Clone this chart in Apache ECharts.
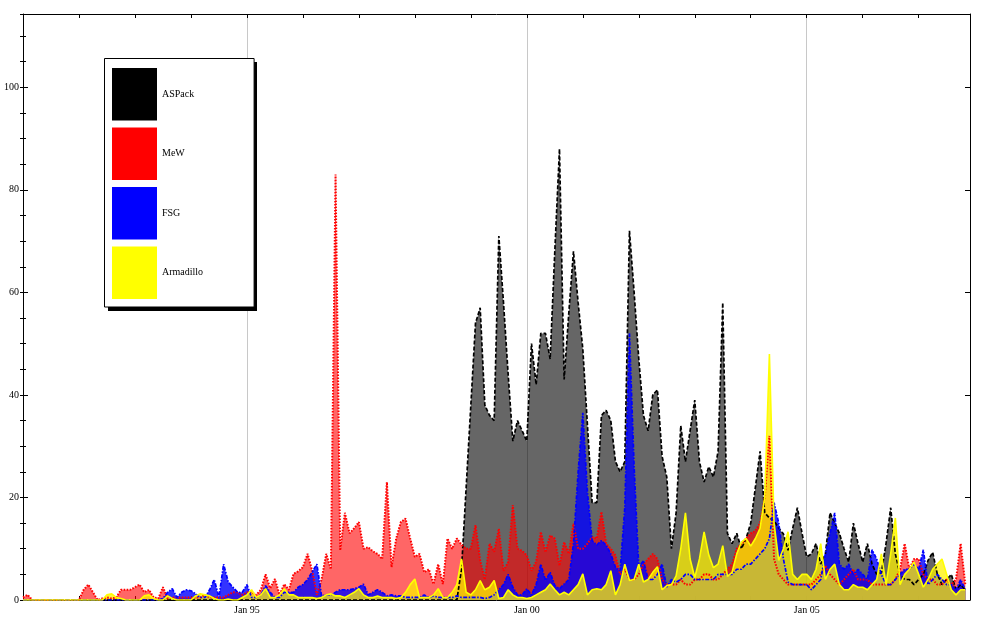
<!DOCTYPE html>
<html>
<head>
<meta charset="utf-8">
<script src="https://cdn.jsdelivr.net/npm/echarts@6/dist/echarts.min.js"></script>
<style>
html,body{margin:0;padding:0;background:#fff;}
#chart{width:1000px;height:620px;}
</style>
</head>
<body>
<div id="chart"></div>
<script>
// Monthly values, index 0 = Jan 1991
const seriesNames = ['ASPack', 'MeW', 'FSG', 'Armadillo'];

const aspack = [
  0,0,0,0,0,0,0,0,0,0,0,0,
  0,0,0,0,0,0,0,0,0,0,0,0,
  0,0,0,0,0,0,0,0,0,0,0,0,
  0,0,0,0,0,0,0,0,0,0,0,0,
  0,0,0,0,0,0,0,0,0,0,0,0,
  0,0,0,0,0,0,0,0,0,0,0,0,
  0,0,0,0,0,0,0,0,0,0,0,0,
  0,0,0,0,0,0,0,0,0,0,6,22,
  38,54,57,38,36,35,71,58,44,31,35,33,
  31,50,42,52,52,47,68,88,43,56,68,58,
  49,34,19,19,36,37,35,27,25,27,72,60,
  47,36,33,40,41,28,24,10,17,34,27,33,
  39,27,23,26,24,29,58,13,11,13,10,12,
  15,22,29,17,16,15.5,14,12.9,9.7,14,18,13,
  8.4,9,11,7,9,17,15,13,10,7.4,15,11,
  7.4,11,7,5,5.3,11,18,9,5,4,4,3,
  4,5,7.7,9.3,5,3,4,5,2,3,2
];

const mew = [
  0.5,1,0,0,0,0,0,0,0,0,0,0,
  0,2,3,1.5,0,0.3,0.5,0.3,0.5,2,2,2,
  2.5,3,1.5,2,0.5,0.3,2.5,0.3,0.5,0.5,0.5,0.5,
  0.5,0.5,0.5,1,0.5,0.5,0.5,0.5,1,1.5,1.5,1,
  1.5,1.5,1,2,5,2.3,4.1,1,3.1,2,5.1,5.6,
  6.4,9,5.7,1,4,9,6,83,9.7,17,13,14,
  15.2,10,10.3,9.5,9,8,23,6.4,12,15.2,15.9,12,
  8.4,9,5.4,6,3.1,7,3.1,12,10,12,10.8,10,
  10,14.6,7.7,4,11,9.4,13.9,5.7,7.4,18.5,10,9.6,
  8.7,5.7,7.5,13.3,9.3,12.6,12,6.7,11.3,9,14.9,10,
  10,11,12.3,12,17.2,11,10,8.7,5,6,4,4,
  5,7,8,9,8,4,3,3,3,4,3,3,
  4,4,5,5,4,4,5,6,7,10,11,12,
  13,13.5,15,20,32,8,5,4,3,3,3,3,
  3,3,4,5,6.7,5,4,3,4,5,6,4,
  4,4,3,3,3,3,3,4,6,11,6,8,
  8,5,4,4,3,3,4,3,4,11,3
];

const fsg = [
  0,0,0,0,0,0,0,0,0,0,0,0,
  0,0,0,0,0,0,0,0,0,0,0,0,
  0,0,0,0,0,0,0.3,1.5,2.2,0.5,1.5,2,
  1.8,1.2,0.5,0.5,2,4,0.5,7,3.5,2.5,1.5,1.5,
  3,0.5,0.5,1,2.8,1.5,0.5,0.5,1.5,1.5,1.5,2.5,
  3,4,5.5,7,0.8,1,1,1.5,2,2,2,2.2,
  2.5,3.1,1,1.5,2,1.5,0.8,1,0.8,0.8,0.5,0.5,
  0.5,0.5,1,0.5,0.8,0.5,0.5,0.5,0.5,0.8,0.5,0.5,
  0.5,0.5,0.5,0.3,0.5,1,2,3,5,2.5,1,1,
  2.2,1,3,7,3.8,5.4,2.8,2.2,3.1,4,11,25,
  36.5,21,11.6,10.7,11.6,10.7,9,6.4,5.7,18,52,26,
  6.4,7.7,4,4,5,7,2.5,4,3.5,4,5,5,
  4,4,4,4,4,5,5,5,5,6,6,7,
  7,8,9,10,12,19,15,8,3.5,3,3,3,
  3,2,3,4,9,13,17,7,6,7,5,6,
  5,4,9.8,8,5,3,3,4,5,6,6,7,
  6,9.8,3,4,5,4,3,3,2,4,2
];

const armadillo = [
  0,0,0,0,0,0,0,0,0,0,0,0,
  0,0,0,0,0,0,1,1.2,0.5,0.3,0,0,
  0,0,0.8,1,0.3,0,0,0.8,0.3,0,0,0,
  0,0.8,1.2,1,0.8,0.3,0,0,0.2,0,0,0.5,
  1,2,0.5,1,2.2,0.5,0.5,1,2.2,1,1,0.5,
  0.5,0.5,0.5,0.3,0.5,1,1.2,0.8,0.8,0.5,1,1.5,
  2.2,1,0.5,0.5,0.8,0.5,0.5,0.5,0.3,0.5,1.5,3,
  4.1,0.5,0.5,0.5,1,2.2,0.5,0.5,1.5,3,8,1.5,
  1,2,3.8,2,2.5,3.8,0.3,0.5,2,1,0.5,0.5,
  0.3,0.5,1,1.5,2,3.1,2,1,1.5,1,2,3,
  5.1,1,2,2.2,2,3,5.7,1,3,7,3.8,4,
  7,3.5,4,5.4,6.5,2,2.8,3,4.7,10,17,8,
  4.4,8,13.3,8.8,6.3,7,10.6,4.6,5.4,9,11.3,12,
  10.5,12,14,20,48,15,7.7,10,13.3,5,4,5,
  5,4,6,11,4,6,7,3,2,2,3,2.5,
  2.5,2,3,4,9,3,9,16,3,5,6,7.4,
  5,2.5,4,6,7,8,5,2,1,2,2
];

// Axis ticks
const xTickMonths = [48, 108, 168];
const xTickLabels = ['Jan 95', 'Jan 00', 'Jan 05'];
const yTickValues = [0, 20, 40, 60, 80, 100];

const toXY = arr => arr.map((v, i) => [i, v]);

const serif = 'Liberation Serif';
const tr = 'rgba(0,0,0,0)';

const chart = echarts.init(document.getElementById('chart'), null, {renderer: 'canvas'});

const xBase = {
  type: 'value', min: 0, max: 203, interval: 12,
  axisLine: {show: true, onZero: false, lineStyle: {color: '#000', width: 1}},
  axisTick: {show: true, inside: true, length: 4, lineStyle: {color: '#000', width: 1}},
  splitLine: {show: false}
};
const yBase = {
  type: 'value', min: 0, max: 114.3,
  axisLine: {show: true, onZero: false, lineStyle: {color: '#000', width: 1}},
  splitLine: {show: false}
};

// legend box geometry
const LG = {left: 104.5, top: 58.5, width: 149, height: 249};

const option = {
  backgroundColor: '#fff',
  animation: false,
  grid: {left: 23, right: 30, top: 14, bottom: 20},
  graphic: [{
    type: 'rect', z: 5, silent: true,
    shape: {x: LG.left + 3.5, y: LG.top + 3.5, width: LG.width, height: LG.height},
    style: {fill: '#000'}
  }],
  xAxis: [
    Object.assign({}, xBase, {
      position: 'bottom',
      axisLabel: {
        show: true, margin: 5, fontFamily: serif, fontSize: 10, color: '#000',
        showMinLabel: true, showMaxLabel: true,
        formatter: v => { const k = xTickMonths.indexOf(v); return k >= 0 ? xTickLabels[k] : ''; }
      },
      splitLine: {show: true, lineStyle: {color: [tr, tr, tr, tr, '#c8c8c8'], width: 1}}
    }),
    Object.assign({}, xBase, {position: 'top', axisLabel: {show: false}})
  ],
  yAxis: [
    Object.assign({}, yBase, {
      position: 'left', interval: 20,
      axisTick: {show: true, inside: true, length: 5, lineStyle: {color: '#000', width: 1}},
      axisLabel: {
        show: true, margin: 4, fontFamily: serif, fontSize: 10, color: '#000',
        formatter: v => yTickValues.indexOf(v) >= 0 ? String(v) : ''
      }
    }),
    Object.assign({}, yBase, {
      position: 'left', interval: 5, axisLine: {show: false},
      axisTick: {show: true, inside: true, length: 3, lineStyle: {color: '#000', width: 1}},
      axisLabel: {show: false}
    }),
    Object.assign({}, yBase, {
      position: 'right', interval: 20,
      axisTick: {show: true, inside: true, length: 5, lineStyle: {color: '#000', width: 1}},
      axisLabel: {show: false}
    }),
    Object.assign({}, yBase, {
      position: 'right', interval: 5, axisLine: {show: false},
      axisTick: {show: true, inside: true, length: 3, lineStyle: {color: '#000', width: 1}},
      axisLabel: {show: false}
    })
  ],
  legend: {
    orient: 'vertical', left: LG.left, top: LG.top, z: 10,
    itemWidth: 45, itemHeight: 52.5, itemGap: 7,
    padding: [9.5, 51, 8, 7.5],
    backgroundColor: '#fff', borderColor: '#000', borderWidth: 1,
    icon: 'rect', symbolKeepAspect: false, selectedMode: false,
    textStyle: {fontFamily: serif, fontSize: 10, color: '#000'},
    data: [
      {name: seriesNames[0], itemStyle: {color: '#000000', borderWidth: 0, opacity: 1}},
      {name: seriesNames[1], itemStyle: {color: '#ff0000', borderWidth: 0, opacity: 1}},
      {name: seriesNames[2], itemStyle: {color: '#0000ff', borderWidth: 0, opacity: 1}},
      {name: seriesNames[3], itemStyle: {color: '#ffff00', borderWidth: 0, opacity: 1}}
    ]
  },
  series: [
    {
      name: seriesNames[0], type: 'line', data: toXY(aspack),
      symbol: 'none', showSymbol: false, silent: true, color: '#000',
      lineStyle: {color: '#000', width: 1.7, type: [4, 2]},
      areaStyle: {color: '#000000', opacity: 0.6, origin: 'start'}
    },
    {
      name: seriesNames[1], type: 'line', data: toXY(mew),
      symbol: 'none', showSymbol: false, silent: true, color: '#ff0000',
      lineStyle: {color: '#ff0000', width: 2, type: [1.6, 1.4]},
      areaStyle: {color: '#ff0000', opacity: 0.6, origin: 'start'}
    },
    {
      name: seriesNames[2], type: 'line', data: toXY(fsg),
      symbol: 'none', showSymbol: false, silent: true, color: '#0000ff',
      lineStyle: {color: '#0000ff', width: 1.7, type: [4, 1.5, 1.5, 1.5]},
      areaStyle: {color: '#0000ff', opacity: 0.8, origin: 'start'}
    },
    {
      name: seriesNames[3], type: 'line', data: toXY(armadillo),
      symbol: 'none', showSymbol: false, silent: true, color: '#ffff00',
      lineStyle: {color: '#ffff00', width: 1.6},
      areaStyle: {color: '#fff200', opacity: 0.75, origin: 'start'}
    }
  ]
};

chart.setOption(option);
</script>
</body>
</html>
